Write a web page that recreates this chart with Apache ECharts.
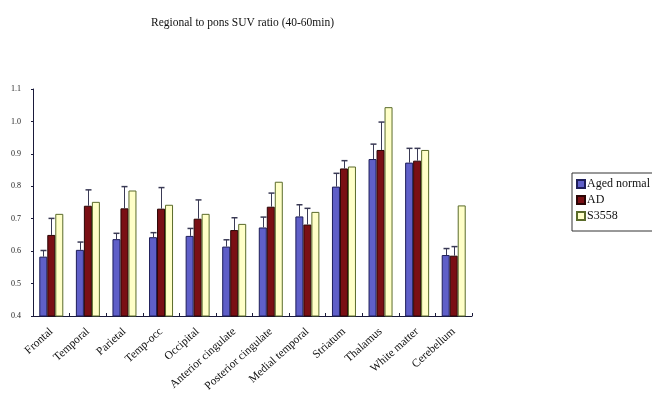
<!DOCTYPE html>
<html><head><meta charset="utf-8">
<script src="https://cdn.jsdelivr.net/npm/echarts@6/dist/echarts.min.js"></script>
<style>html,body{margin:0;padding:0;background:#fff}#c{width:652px;height:395px}</style>
</head><body><div id="c"></div>
<script>
const categories = ['Frontal','Temporal','Parietal','Temp-occ','Occipital','Anterior cingulate','Posterior cingulate','Medial temporal','Striatum','Thalamus','White matter','Cerebellum'];
const agedNormal = [0.583,0.604,0.637,0.643,0.647,0.614,0.673,0.707,0.799,0.884,0.873,0.588];
const agedNormalErr = [0.602,0.628,0.655,0.657,0.670,0.635,0.705,0.743,0.840,0.930,0.917,0.608];
const ad = [0.650,0.740,0.732,0.731,0.700,0.665,0.737,0.682,0.855,0.912,0.879,0.586];
const adErr = [0.701,0.789,0.799,0.796,0.758,0.703,0.779,0.732,0.879,0.998,0.917,0.614];
const s3558 = [0.715,0.752,0.787,0.743,0.715,0.684,0.814,0.721,0.861,1.044,0.912,0.741];
const yTicks = [0.4,0.5,0.6,0.7,0.8,0.9,1.0,1.1];

const BW = 8;
const serif = '"Liberation Serif","DejaVu Serif",serif';
function errSeries(name, vals, errs, offset, color) {
  return {
    type: 'custom', name: name + ' err', z: 5, silent: true,
    data: vals.map((v, i) => [i, v, errs[i]]),
    renderItem: function (params, api) {
      const top = api.coord([api.value(0), api.value(2)]);
      const base = api.coord([api.value(0), api.value(1)]);
      const x = Math.round(top[0] + offset) + 0.5;
      return {
        type: 'group',
        children: [
          {type: 'line', shape: {x1: x, y1: base[1], x2: x, y2: top[1]}, style: {stroke: color, lineWidth: 1}},
          {type: 'line', shape: {x1: x - 3, y1: top[1], x2: x + 3, y2: top[1]}, style: {stroke: color, lineWidth: 1.5}}
        ]
      };
    }
  };
}
const chart = echarts.init(document.getElementById('c'), null, {renderer: 'canvas'});
chart.setOption({
  animation: false,
  backgroundColor: '#fff',
  title: {
    text: 'Regional to pons SUV ratio (40-60min)',
    left: 146, top: 12,
    textStyle: {fontFamily: serif, fontSize: 11.5, fontWeight: 'normal', color: '#111'}
  },
  legend: {
    orient: 'vertical', left: 572, top: 173,
    data: ['Aged normal', 'AD', 'S3558'],
    itemWidth: 8, itemHeight: 8, itemGap: 4,
    padding: [5, 4, 9, 4],
    borderColor: '#333', borderWidth: 1,
    textStyle: {fontFamily: serif, fontSize: 12, color: '#111', padding: [0, 0, 0, -3]},
    icon: 'rect'
  },
  grid: {left: 33, right: 180, top: 89, bottom: 79},
  xAxis: {
    type: 'category', data: categories,
    axisLine: {lineStyle: {color: '#1a1a3a', width: 1}},
    axisTick: {show: true, inside: true, length: 3, lineStyle: {color: '#1a1a3a'}},
    axisLabel: {rotate: 42, margin: 14, fontFamily: serif, fontSize: 11.5, color: '#111', interval: 0}
  },
  yAxis: {
    type: 'value', min: 0.4, max: 1.1, interval: 0.1,
    axisLine: {show: true, lineStyle: {color: '#1a1a3a', width: 1}},
    axisTick: {show: true, length: 2, lineStyle: {color: '#1a1a3a'}},
    splitLine: {show: false},
    axisLabel: {margin: 12, fontFamily: serif, fontSize: 8, color: '#222',
      formatter: v => v.toFixed(1)}
  },
  series: [
    {name: 'Aged normal', type: 'bar', data: agedNormal, barWidth: BW, barGap: 0,
      itemStyle: {color: '#5f5fc8', borderColor: '#1e1e5a', borderWidth: 1}},
    {name: 'AD', type: 'bar', data: ad, barWidth: BW, barGap: 0,
      itemStyle: {color: '#7a0f14', borderColor: '#2a0505', borderWidth: 1}},
    {name: 'S3558', type: 'bar', data: s3558, barWidth: BW, barGap: 0,
      itemStyle: {color: '#ffffc8', borderColor: '#5a6b2a', borderWidth: 1}},
    errSeries('Aged normal', agedNormal, agedNormalErr, -BW, '#3a3a55'),
    errSeries('AD', ad, adErr, 0, '#3a3a55')
  ]
});
</script></body></html>
